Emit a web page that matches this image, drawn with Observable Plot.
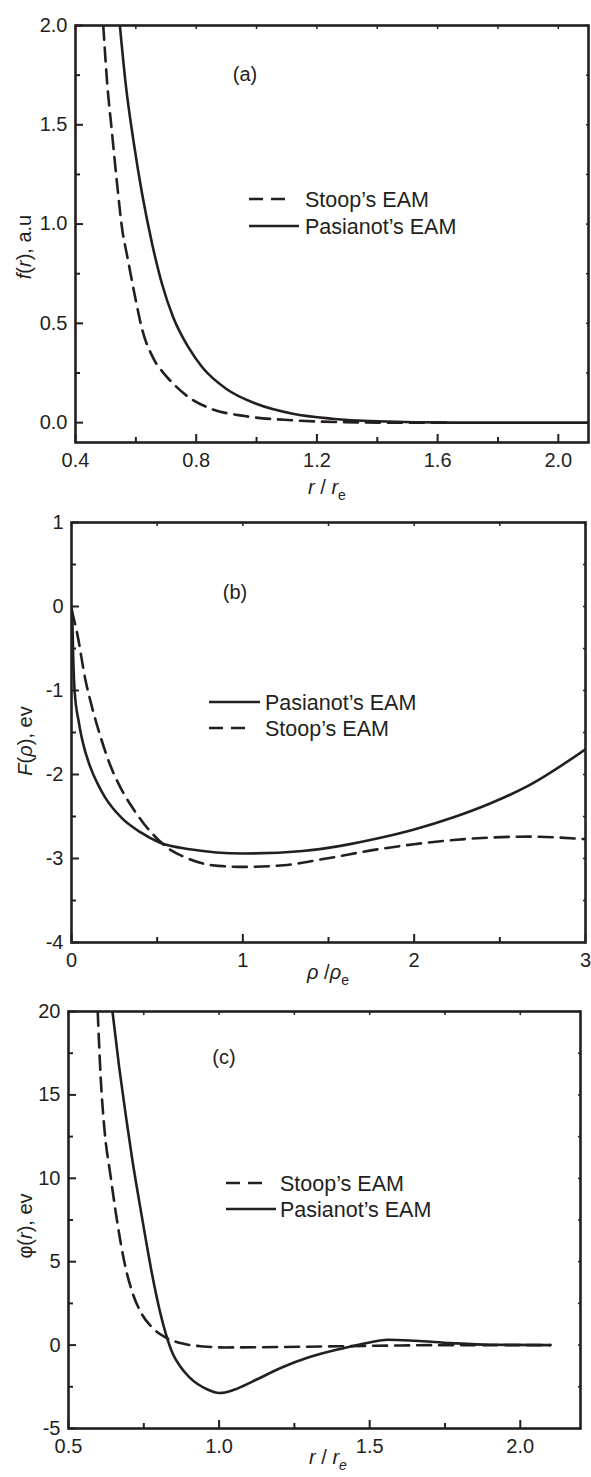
<!DOCTYPE html>
<html>
<head>
<meta charset="utf-8">
<script src="https://cdn.jsdelivr.net/npm/d3@7"></script>
<script src="https://cdn.jsdelivr.net/npm/@observablehq/plot@0.6"></script>
<style>
  body { margin: 0; background: #fff; }
  #chart { width: 591px; }
  #chart svg { display: block; }
</style>
</head>
<body>
<div id="chart"></div>
<script>
// ---------- Panel (a): f(r) ----------
const aStoopR = [0.492, 0.505, 0.521, 0.538, 0.557, 0.568, 0.600, 0.622, 0.656, 0.699, 0.724, 0.774, 0.849, 0.961, 1.12, 1.27, 1.45, 1.65];
const aStoopF = [2.0, 1.71, 1.46, 1.20, 0.95, 0.865, 0.614, 0.463, 0.33, 0.237, 0.196, 0.129, 0.07, 0.033, 0.012, 0.003, 0.0, 0.0];
const aPasR = [0.547, 0.566, 0.593, 0.621, 0.654, 0.687, 0.724, 0.774, 0.820, 0.899, 0.999, 1.12, 1.25, 1.40, 1.65, 2.1];
const aPasF = [2.0, 1.71, 1.41, 1.15, 0.90, 0.697, 0.53, 0.38, 0.279, 0.171, 0.095, 0.045, 0.02, 0.007, 0.0, 0.0];
const aXMajor = [0.4, 0.8, 1.2, 1.6, 2.0];
const aXMinor = [0.6, 1.0, 1.4, 1.8];
const aYMajor = [0.0, 0.5, 1.0, 1.5, 2.0];
const aYMinor = [0.25, 0.75, 1.25, 1.75];

// ---------- Panel (b): F(rho) ----------
const bPasRho = [0.001, 0.004, 0.01, 0.018, 0.043, 0.064, 0.119, 0.15, 0.195, 0.294, 0.404, 0.514, 0.69, 1.0, 1.35, 1.57, 1.79, 2.0, 2.23, 2.45, 2.67, 3.0];
const bPasF = [-0.02, -0.09, -0.60, -1.0, -1.38, -1.60, -1.96, -2.10, -2.27, -2.52, -2.69, -2.81, -2.89, -2.94, -2.91, -2.85, -2.76, -2.655, -2.51, -2.34, -2.13, -1.70];
const bStoopRho = [0.002, 0.033, 0.082, 0.12, 0.15, 0.174, 0.228, 0.272, 0.32, 0.371, 0.42, 0.47, 0.558, 0.668, 0.82, 1.0, 1.24, 1.46, 1.79, 2.0, 2.23, 2.45, 2.67, 3.0];
const bStoopF = [-0.05, -0.32, -0.88, -1.2, -1.42, -1.58, -1.90, -2.10, -2.28, -2.44, -2.58, -2.70, -2.87, -2.99, -3.08, -3.10, -3.08, -3.01, -2.89, -2.83, -2.78, -2.75, -2.74, -2.77];
const bXMajor = [0, 1, 2, 3];
const bXMinor = [0.5, 1.5, 2.5];
const bYMajor = [-4, -3, -2, -1, 0, 1];
const bYMinor = [-3.5, -2.5, -1.5, -0.5, 0.5];

// ---------- Panel (c): phi(r) ----------
const cStoopR = [0.597, 0.607, 0.618, 0.640, 0.667, 0.684, 0.709, 0.741, 0.778, 0.822, 0.872, 0.947, 1.02, 1.27, 1.52, 1.77, 2.1];
const cStoopPhi = [20, 16.0, 13.2, 10.1, 6.8, 5.1, 3.33, 1.94, 1.05, 0.46, 0.12, -0.08, -0.14, -0.10, -0.04, 0, 0];
const cPasR = [0.646, 0.668, 0.690, 0.712, 0.735, 0.756, 0.778, 0.800, 0.822, 0.847, 0.87, 0.90, 0.93, 0.96, 1.0, 1.02, 1.05, 1.08, 1.123, 1.21, 1.298, 1.4, 1.5, 1.56, 1.65, 1.77, 1.9, 2.1];
const cPasPhi = [20, 16.7, 13.8, 11.1, 8.6, 6.4, 4.2, 2.3, 0.75, -0.55, -1.25, -1.90, -2.35, -2.65, -2.87, -2.84, -2.68, -2.45, -2.08, -1.33, -0.73, -0.24, 0.16, 0.32, 0.26, 0.12, 0.02, 0];
const cXMajor = [0.5, 1.0, 1.5, 2.0];
const cXMinor = [0.75, 1.25, 1.75];
const cYMajor = [-5, 0, 5, 10, 15, 20];
const cYMinor = [-2.5, 2.5, 7.5, 12.5, 17.5];

const INK = "#231f20";
const FONT = "'Liberation Sans', Arial, Helvetica, sans-serif";
const DASH = "14,8";
const TICKFS = 20;

function rows(xs, ys) { return xs.map((x, i) => ({x, y: ys[i]})); }

function panel(cfg) {
  const allX = [...cfg.xMajor, ...cfg.xMinor];
  const allY = [...cfg.yMajor, ...cfg.yMinor];
  const svg = Plot.plot({
    width: 591,
    height: cfg.height,
    marginTop: cfg.mt, marginRight: cfg.mr, marginBottom: cfg.mb, marginLeft: cfg.ml,
    style: {fontFamily: FONT, fontSize: "20px", color: INK, background: "white"},
    x: {domain: cfg.xDomain},
    y: {domain: cfg.yDomain},
    marks: [
      Plot.line(cfg.dashed, {x: "x", y: "y", stroke: INK, strokeWidth: 2.6, strokeDasharray: DASH, curve: "monotone-x", clip: true}),
      Plot.line(cfg.solid, {x: "x", y: "y", stroke: INK, strokeWidth: 2.6, curve: "monotone-x", clip: true}),
      Plot.frame({stroke: INK, strokeWidth: 2.6}),
      Plot.axisX(cfg.xMajor, {anchor: "bottom", tickSize: -8, tickPadding: 18, strokeWidth: 2, fontSize: TICKFS, tickFormat: cfg.xFmt, label: null}),
      Plot.axisX(cfg.xMinor, {anchor: "bottom", tickSize: -5, strokeWidth: 2, fill: "none", label: null}),
      Plot.axisX(allX, {anchor: "top", tickSize: -3, strokeWidth: 1.5, fill: "none", label: null}),
      Plot.axisY(cfg.yMajor, {anchor: "left", tickSize: -8, tickPadding: 16, strokeWidth: 2, fontSize: TICKFS, tickFormat: cfg.yFmt, label: null}),
      Plot.axisY(cfg.yMinor, {anchor: "left", tickSize: -5, strokeWidth: 2, fill: "none", label: null}),
      Plot.axisY(allY, {anchor: "right", tickSize: -3, strokeWidth: 1.5, fill: "none", label: null})
    ]
  });
  const s = d3.select(svg);
  const g = s.append("g").attr("fill", INK).style("font-family", FONT);

  // panel tag
  g.append("text").attr("x", cfg.tag[0]).attr("y", cfg.tag[1]).attr("dy", "0.35em")
    .attr("text-anchor", "middle").style("font-size", "20px").text(cfg.tag[2]);

  // legend
  cfg.legend.forEach(item => {
    g.append("line").attr("x1", item.x1).attr("x2", item.x2).attr("y1", item.y).attr("y2", item.y)
      .attr("stroke", INK).attr("stroke-width", 2.6)
      .attr("stroke-dasharray", item.dashed ? DASH : null);
    g.append("text").attr("x", item.tx).attr("y", item.y).attr("dy", "0.35em")
      .attr("text-anchor", "start")
      .style("font-size", "21.5px").text(item.label);
  });

  // axis titles (rich text)
  function rich(textSel, parts) {
    parts.forEach(p => {
      const t = textSel.append("tspan").text(p.t);
      if (p.i) t.attr("font-style", "italic");
      if (p.sub) t.attr("dy", "0.45em").style("font-size", "14px");
    });
  }
  const yt = g.append("text")
    .attr("transform", `translate(${cfg.yTitle.x},${cfg.yTitle.y}) rotate(-90)`)
    .attr("text-anchor", "middle").attr("dy", "0.35em").style("font-size", "20px");
  rich(yt, cfg.yTitle.parts);
  const xt = g.append("text").attr("x", cfg.xTitle.x).attr("y", cfg.xTitle.y)
    .attr("text-anchor", "middle").style("font-size", "20px");
  rich(xt, cfg.xTitle.parts);
  return svg;
}

const fmt1 = d3.format(".1f");
const fmtInt = d => String(d);
const chart = document.getElementById("chart");

chart.appendChild(panel({
  height: 512, mt: 25, mr: 3, mb: 70, ml: 75,
  xDomain: [0.4, 2.1], yDomain: [-0.1, 2.0],
  xMajor: aXMajor, xMinor: aXMinor, yMajor: aYMajor, yMinor: aYMinor,
  xFmt: fmt1, yFmt: fmt1,
  dashed: rows(aStoopR, aStoopF), solid: rows(aPasR, aPasF),
  tag: [245, 74, "(a)"],
  legend: [
    {x1: 249, x2: 288, y: 199, tx: 305, dashed: true, label: "Stoop\u2019s EAM"},
    {x1: 249, x2: 299, y: 226, tx: 305, dashed: false, label: "Pasianot\u2019s EAM"}
  ],
  yTitle: {x: 24, y: 247, parts: [{t: "f", i: true}, {t: "("}, {t: "r", i: true}, {t: "), a.u"}]},
  xTitle: {x: 327, y: 494, parts: [{t: "r", i: true}, {t: " / "}, {t: "r", i: true}, {t: "e", sub: true}]}
}));

chart.appendChild(panel({
  height: 488, mt: 10, mr: 6, mb: 58, ml: 71,
  xDomain: [0, 3], yDomain: [-4, 1],
  xMajor: bXMajor, xMinor: bXMinor, yMajor: bYMajor, yMinor: bYMinor,
  xFmt: fmtInt, yFmt: fmtInt,
  dashed: rows(bStoopRho, bStoopF), solid: rows(bPasRho, bPasF),
  tag: [235, 80, "(b)"],
  legend: [
    {x1: 209, x2: 260, y: 190, tx: 265, dashed: false, label: "Pasianot\u2019s EAM"},
    {x1: 209, x2: 248, y: 216, tx: 265, dashed: true, label: "Stoop\u2019s EAM"}
  ],
  yTitle: {x: 25, y: 229, parts: [{t: "F", i: true}, {t: "("}, {t: "\u03c1", i: true}, {t: "), ev"}]},
  xTitle: {x: 328, y: 467, parts: [{t: "\u03c1", i: true}, {t: " /"}, {t: "\u03c1", i: true}, {t: "e", sub: true}]}
}));

chart.appendChild(panel({
  height: 477, mt: 11, mr: 11, mb: 49, ml: 68,
  xDomain: [0.5, 2.2], yDomain: [-5, 20],
  xMajor: cXMajor, xMinor: cXMinor, yMajor: cYMajor, yMinor: cYMinor,
  xFmt: fmt1, yFmt: fmtInt,
  dashed: rows(cStoopR, cStoopPhi), solid: rows(cPasR, cPasPhi),
  tag: [224, 57, "(c)"],
  legend: [
    {x1: 226, x2: 264, y: 183, tx: 280, dashed: true, label: "Stoop\u2019s EAM"},
    {x1: 226, x2: 276, y: 209, tx: 280, dashed: false, label: "Pasianot\u2019s EAM"}
  ],
  yTitle: {x: 25, y: 226, parts: [{t: "\u03c6("}, {t: "r", i: true}, {t: "), ev"}]},
  xTitle: {x: 328, y: 464, parts: [{t: "r", i: true}, {t: " / "}, {t: "r", i: true}, {t: "e", sub: true, i: true}]}
}));
</script>
</body>
</html>
